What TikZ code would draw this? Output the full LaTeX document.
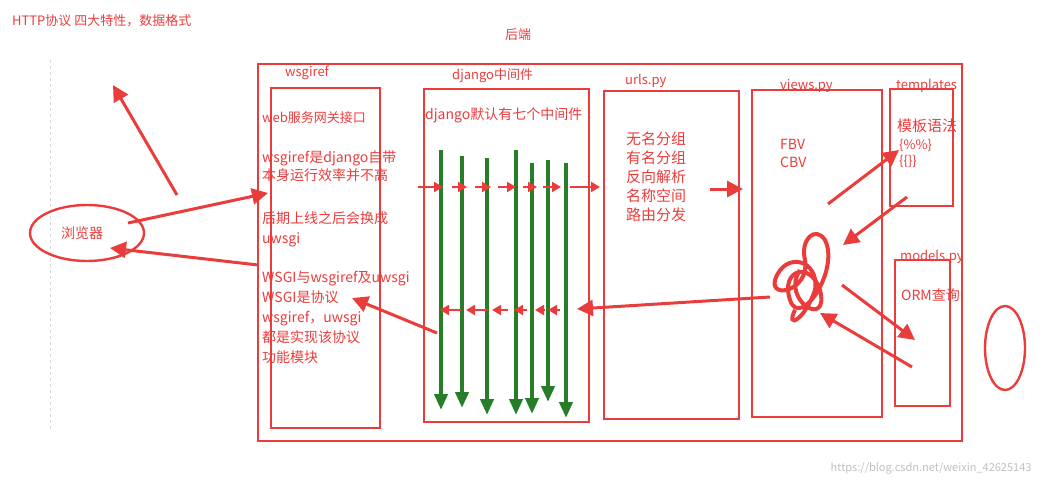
\documentclass[tikz,border=0pt]{standalone}
\usepackage{fontspec}
\newfontfamily\cjk{Noto Sans CJK SC}
\usetikzlibrary{arrows.meta,shapes.geometric}
\definecolor{rd}{RGB}{235,60,60}
\definecolor{gr}{RGB}{40,125,40}
\tikzset{x=1pt,y=-1pt,
 box/.style={draw=rd,line width=2.4pt},
 lbl/.style={text=rd,font=\cjk\fontsize{13}{16}\selectfont,inner sep=0pt,anchor=north west,align=left},
 rarr/.style={rd,line width=3pt,-{Triangle[length=16pt,width=16pt]}},
 sarr/.style={rd,line width=2pt,-{Triangle[length=9pt,width=10pt]}},
 garr/.style={gr,line width=4pt,-{Triangle[length=16pt,width=13pt]}}}
\begin{document}
\begin{tikzpicture}
\useasboundingbox (0,0) rectangle (1043,487);
\draw[gray!30,dashed] (50,60) -- (50,430);
\node[lbl] (title) at (12,14) {HTTP协议 四大特性，数据格式};
\node[lbl] (hd) at (505,28) {后端};
\draw[box] (258,64) rectangle (962,441);
\node[draw=rd,line width=2.4pt,ellipse,minimum width=114pt,minimum height=56pt] (br) at (87,233) {};
\node[lbl,anchor=center,font=\cjk\fontsize{14}{16}\selectfont] (brt) at (82,233) {浏览器};
\node[draw=rd,line width=2.4pt,ellipse,minimum width=40pt,minimum height=84pt] (re) at (1005,348) {};
\draw[box] (271,88) rectangle (380,428);
\draw[box] (424,89) rectangle (589,422);
\draw[box] (604,91) rectangle (739,419);
\draw[box] (752,90) rectangle (882,417);
\draw[box] (890,89) rectangle (953,206);
\draw[box] (895,260) rectangle (950,406);
\node[lbl] (w) at (285,66) {wsgiref};
\node[lbl] (dj) at (452,68) {django中间件};
\node[lbl] (ur) at (625,74) {urls.py};
\node[lbl] (vi) at (780,79) {views.py};
\node[lbl] (tp) at (896,79) {templates};
\node[lbl] (md) at (900,250) {models.py};
\node[lbl] (w1) at (262,111) {web服务网关接口};
\node[lbl,font=\cjk\fontsize{14}{18}\selectfont] (w2) at (262,151) {wsgiref是django自带\\本身运行效率并不高};
\node[lbl,font=\cjk\fontsize{14}{20}\selectfont] (w3) at (262,211) {后期上线之后会换成\\uwsgi};
\node[lbl,font=\cjk\fontsize{14}{20}\selectfont] (w4) at (262,271) {WSGI与wsgiref及uwsgi\\WSGI是协议\\wsgiref，uwsgi\\都是实现该协议\\功能模块};
\node[lbl,font=\cjk\fontsize{14}{16}\selectfont] (d1) at (425,108) {django默认有七个中间件};
\node[lbl,font=\cjk\fontsize{15}{19}\selectfont] (u1) at (626,132) {无名分组\\有名分组\\反向解析\\名称空间\\路由分发};
\node[lbl,font=\cjk\fontsize{14}{18}\selectfont] (v1) at (780,139) {FBV\\CBV};
\node[lbl,font=\cjk\fontsize{15}{17}\selectfont] (t1) at (897,119) {模板语法};
\node[lbl] (t2) at (899,139) {\{\%\%\}\\\{\{\}\}};
\node[lbl,font=\cjk\fontsize{14}{16}\selectfont] (m1) at (901,289) {ORM查询};
% green
\foreach \x/\t/\b in {441/150/410,462/156/408,487/158/415,516/150/415,532/163/414,548/160/402,566/163/418}
  \draw[garr] (\x,\t) -- (\x,\b);
% red chains
\foreach \a/\b in {418/443,452/467,475/491,498/516,523/537,543/561,570/600}
  \draw[sarr] (\a,187) -- (\b,187);
\foreach \a/\b in {461/440,488/466,508/492,527/514,545/535,560/548}
  \draw[sarr] (\a,310) -- (\b,310);
\draw[rarr] (710,189) -- (743,189);
\draw[rarr] (770,297) -- (577,309);
\draw[rarr] (437,333) -- (352,298);
\draw[rarr] (128,223) -- (268,193);
\draw[rarr] (258,265) -- (110,248);
\draw[rarr] (177,195) -- (113,85);
\draw[rarr] (828,204) -- (899,150);
\draw[rarr] (907,197) -- (843,245);
\draw[rarr] (842,285) -- (915,340);
\draw[rarr] (912,367) -- (820,313);
\draw[rd,line width=4pt] (800,270) .. controls (780,300) and (830,330) .. (820,290)
  .. controls (810,260) and (780,270) .. (790,300) .. controls (800,330) and (840,270) .. (825,240)
  .. controls (815,225) and (800,240) .. (805,260) .. controls (810,290) and (770,300) .. (775,280)
  .. controls (785,250) and (820,260) .. (815,290) .. controls (805,320) and (785,330) .. (795,310);
\node[text=gray!50,font=\cjk\fontsize{11}{12}\selectfont,anchor=east] (wm) at (1035,468) {https://blog.csdn.net/weixin\_42625143};
\end{tikzpicture}
\end{document}
